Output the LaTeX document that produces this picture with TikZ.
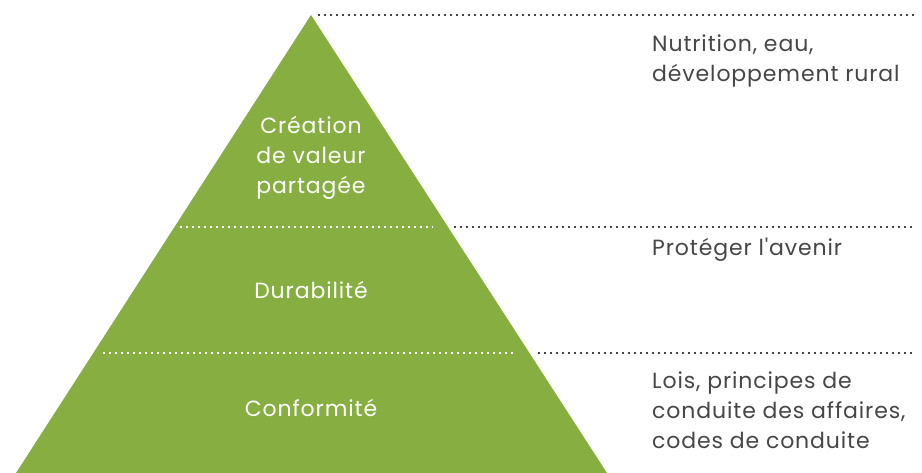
\documentclass[tikz,border=0pt]{standalone}
\usepackage{fontspec}
\setmainfont{Poppins}[Ligatures=TeXOff, LetterSpace=4]
\usetikzlibrary{positioning}
\definecolor{leaf}{RGB}{135,174,64}
\definecolor{ink}{RGB}{70,70,70}

\begin{document}
\begin{tikzpicture}[x=1pt, y=-1pt,
    every node/.style={font=\fontsize{22}{30}\selectfont, inner sep=0pt},
    dots/.style={line width=1.3pt, dash pattern=on 1.5pt off 4.5pt}]
    \useasboundingbox (0,0) rectangle (922,473);

    \coordinate (A) at (311,15);
    \coordinate (L) at (16,473);
    \coordinate (R) at (607,473);
    \fill[leaf] (A) -- (L) -- (R) -- cycle;

    \coordinate (T1) at (318,15);  \coordinate (T2) at (915,15);
    \coordinate (M1) at (180,227); \coordinate (M2) at (433,227);
    \coordinate (M3) at (454,227); \coordinate (M4) at (915,227);
    \coordinate (B1) at (103,353); \coordinate (B2) at (514,353);
    \coordinate (B3) at (538,353); \coordinate (B4) at (915,353);

    \foreach \from/\to in {M1/M2, B1/B2}
        \draw[white, dots] (\from) -- (\to);
    \foreach \from/\to in {T1/T2, M3/M4, B3/B4}
        \draw[ink, dots] (\from) -- (\to);

    \node[white, align=center] (cvp) at (311,158) {Création\\de valeur\\partagée};
    \node[white] (dur) at (311,290) {Durabilité};
    \node[white] (con) at (311,408) {Conformité};

    \node[ink, align=left, anchor=north west] (nut) at (652,35) {Nutrition, eau,\\développement rural};
    \node[ink, anchor=north west] (pro) at (652,238) {Protéger l'avenir};
    \node[ink, align=left, anchor=north west] (loi) at (652,372) {Lois, principes de\\conduite des affaires,\\codes de conduite};
\end{tikzpicture}
\end{document}
